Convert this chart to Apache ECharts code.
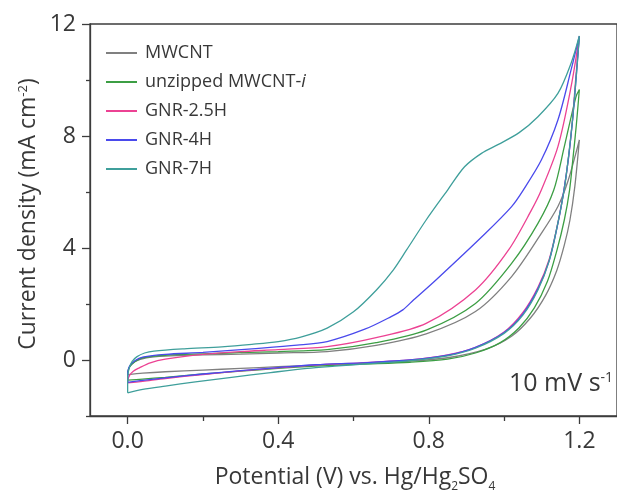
<!DOCTYPE html>
<html>
<head>
<meta charset="utf-8">
<script src="https://cdn.jsdelivr.net/npm/echarts@6/dist/echarts.min.js"></script>
<style>
  html, body { margin: 0; padding: 0; background: #fff; }
  #chart { width: 617px; height: 494px; }
</style>
</head>
<body>
<div id="chart"></div>
<script>
// Cyclic voltammograms at 10 mV/s: forward (0 -> 1.2 V) and reverse (1.2 -> 0 V) sweeps
const seriesNames = ['MWCNT', 'unzipped MWCNT-i', 'GNR-2.5H', 'GNR-4H', 'GNR-7H'];
const seriesColors = ['#808080', '#3c9e44', '#ec4293', '#4a4aec', '#3f9f9b'];

const xMajorTicks = [0, 0.4, 0.8, 1.2];
const xMinorTicks = [0.2, 0.6, 1.0];
const yMajorTicks = [0, 4, 8, 12];
const yMinorTicks = [-2, 2, 6, 10];

// [potential (V), current density (mA cm-2)]
const mwcntForward = [[0,-0.45],[0.005,-0.25],[0.02,-0.05],[0.05,0.08],[0.1,0.14],[0.2,0.18],[0.3,0.21],[0.4,0.25],[0.53,0.3],[0.66,0.52],[0.793,0.93],[0.924,1.73],[1.02,2.98],[1.099,4.52],[1.143,5.48],[1.17,6.4],[1.2,7.86]];
const mwcntReverse = [[1.2,7.86],[1.188,6.2],[1.175,5.0],[1.16,4.1],[1.14,3.2],[1.11,2.3],[1.07,1.5],[1.02,0.85],[0.95,0.38],[0.85,0.08],[0.75,-0.04],[0.62,-0.12],[0.5,-0.18],[0.4,-0.24],[0.3,-0.3],[0.2,-0.36],[0.1,-0.42],[0.04,-0.47],[0,-0.52]];

const unzippedForward = [[0,-0.45],[0.005,-0.25],[0.02,-0.05],[0.04,0.08],[0.1,0.17],[0.2,0.22],[0.3,0.26],[0.4,0.3],[0.53,0.37],[0.66,0.62],[0.793,1.07],[0.924,2.02],[1.02,3.45],[1.09,4.88],[1.132,6.07],[1.16,7.62],[1.191,9.4],[1.2,9.66]];
const unzippedReverse = [[1.2,9.66],[1.192,8.4],[1.183,7.2],[1.174,6.07],[1.16,5.0],[1.14,3.9],[1.115,2.8],[1.08,1.85],[1.04,1.15],[0.99,0.62],[0.924,0.25],[0.85,0.03],[0.75,-0.08],[0.62,-0.15],[0.5,-0.22],[0.4,-0.3],[0.3,-0.4],[0.2,-0.5],[0.1,-0.62],[0.04,-0.68],[0,-0.72]];

const gnr25Forward = [[0,-0.72],[0.005,-0.55],[0.015,-0.4],[0.031,-0.28],[0.06,-0.1],[0.1,0.03],[0.2,0.2],[0.3,0.3],[0.4,0.37],[0.53,0.48],[0.66,0.8],[0.793,1.31],[0.924,2.5],[1.012,3.93],[1.073,5.36],[1.099,6.07],[1.143,7.62],[1.178,9.76],[1.2,11.57]];
const gnr25Reverse = [[1.2,11.57],[1.19,10.0],[1.182,8.6],[1.171,7.2],[1.159,6.07],[1.143,4.9],[1.12,3.6],[1.09,2.6],[1.05,1.7],[1.0,1.0],[0.924,0.45],[0.85,0.18],[0.75,0.0],[0.62,-0.1],[0.5,-0.18],[0.4,-0.28],[0.3,-0.39],[0.2,-0.52],[0.1,-0.66],[0.04,-0.76],[0,-0.82]];

const gnr4Forward = [[0,-0.45],[0.005,-0.22],[0.02,-0.02],[0.04,0.1],[0.1,0.2],[0.2,0.27],[0.33,0.4],[0.45,0.53],[0.53,0.66],[0.63,1.1],[0.7,1.55],[0.731,1.79],[0.76,2.15],[0.819,2.86],[0.95,4.52],[1.02,5.48],[1.051,6.07],[1.099,7.14],[1.143,8.57],[1.178,10.36],[1.2,11.57]];
const gnr4Reverse = [[1.2,11.57],[1.191,10.0],[1.182,8.57],[1.171,7.2],[1.159,6.07],[1.143,4.88],[1.12,3.55],[1.09,2.55],[1.05,1.65],[1.0,0.98],[0.924,0.45],[0.85,0.17],[0.75,0.0],[0.62,-0.1],[0.5,-0.17],[0.4,-0.27],[0.3,-0.38],[0.2,-0.5],[0.1,-0.64],[0.04,-0.73],[0,-0.8]];

const gnr7Forward = [[0,-1.17],[0,-0.6],[0.004,-0.3],[0.012,-0.05],[0.025,0.12],[0.045,0.25],[0.07,0.32],[0.15,0.4],[0.25,0.47],[0.33,0.56],[0.4,0.66],[0.46,0.82],[0.53,1.14],[0.6,1.72],[0.661,2.5],[0.705,3.2],[0.741,3.93],[0.793,5.0],[0.85,6.07],[0.895,6.9],[0.94,7.38],[0.985,7.7],[1.04,8.12],[1.09,8.69],[1.143,9.52],[1.178,10.6],[1.2,11.57]];
const gnr7Reverse = [[1.2,11.57],[1.191,10.0],[1.182,8.6],[1.171,7.25],[1.16,6.1],[1.143,4.9],[1.12,3.55],[1.09,2.5],[1.05,1.6],[1.0,0.95],[0.924,0.42],[0.85,0.15],[0.75,-0.02],[0.65,-0.12],[0.55,-0.22],[0.477,-0.3],[0.38,-0.45],[0.276,-0.62],[0.18,-0.78],[0.1,-0.93],[0.04,-1.05],[0,-1.17]];

const sweeps = [
  [mwcntForward, mwcntReverse],
  [unzippedForward, unzippedReverse],
  [gnr25Forward, gnr25Reverse],
  [gnr4Forward, gnr4Reverse],
  [gnr7Forward, gnr7Reverse]
];

// close each voltammogram: forward sweep, reverse sweep, then back to the start
function closedLoop(fwd, rev) {
  const pts = fwd.concat(rev.slice(1));
  pts.push(fwd[0]);
  return pts;
}

const FONT = '"Open Sans", "Noto Sans", sans-serif';
const TEXT = '#383838';
const AXIS = '#3c3c3c';

const chart = echarts.init(document.getElementById('chart'), null, { renderer: 'canvas' });

const option = {
  animation: false,
  backgroundColor: '#ffffff',
  grid: {
    left: 90, top: 24, right: -6, bottom: 78,
    show: true, borderColor: AXIS, borderWidth: 1.3, backgroundColor: 'transparent'
  },
  xAxis: [{
    type: 'value', min: -0.1, max: 1.3, position: 'bottom',
    axisLine: { show: true, onZero: false, lineStyle: { color: AXIS, width: 1.3 } },
    axisTick: { show: true, inside: false, length: 8, customValues: xMajorTicks, lineStyle: { color: AXIS, width: 1.3 } },
    axisLabel: { customValues: xMajorTicks, formatter: v => v.toFixed(1), fontSize: 23, color: TEXT, fontFamily: FONT, margin: 14 },
    splitLine: { show: false }
  }, {
    type: 'value', min: -0.1, max: 1.3, position: 'bottom',
    axisLine: { show: false, onZero: false },
    axisTick: { show: true, inside: false, length: 5, customValues: xMinorTicks, lineStyle: { color: AXIS, width: 1.3 } },
    axisLabel: { show: false },
    splitLine: { show: false }
  }],
  yAxis: [{
    type: 'value', min: -2, max: 12, position: 'left',
    axisLine: { show: true, onZero: false, lineStyle: { color: AXIS, width: 1.3 } },
    axisTick: { show: true, inside: false, length: 8, customValues: yMajorTicks, lineStyle: { color: AXIS, width: 1.3 } },
    axisLabel: { customValues: yMajorTicks, formatter: v => String(v), fontSize: 23, color: TEXT, fontFamily: FONT, margin: 14 },
    splitLine: { show: false }
  }, {
    type: 'value', min: -2, max: 12, position: 'left',
    axisLine: { show: false, onZero: false },
    axisTick: { show: true, inside: false, length: 4, customValues: yMinorTicks, lineStyle: { color: AXIS, width: 1.3 } },
    axisLabel: { show: false },
    splitLine: { show: false }
  }],
  legend: {
    orient: 'vertical', left: 106, top: 44, padding: 0,
    icon: 'rect', itemWidth: 31, itemHeight: 2, itemGap: 11,
    textStyle: {
      fontSize: 18, color: TEXT, fontFamily: FONT, padding: [0, 0, 0, 3],
      rich: { it: { fontSize: 18, color: TEXT, fontFamily: FONT, fontStyle: 'italic' } }
    },
    formatter: name => name === 'unzipped MWCNT-i' ? 'unzipped MWCNT-{it|i}' : name,
    data: seriesNames
  },
  series: seriesNames.map((name, i) => ({
    name: name,
    type: 'line',
    xAxisIndex: 0, yAxisIndex: 0,
    data: closedLoop(sweeps[i][0], sweeps[i][1]),
    symbol: 'none',
    smooth: 0.3,
    lineStyle: { color: seriesColors[i], width: 1.3 },
    itemStyle: { color: seriesColors[i] },
    z: 2 + i
  })),
  graphic: [
    {
      type: 'text', x: 355, y: 477, z: 10,
      style: {
        text: '{a|Potential (V) vs. Hg/Hg}{s|2}{a|SO}{s|4}',
        align: 'center', verticalAlign: 'middle',
        rich: {
          a: { fontSize: 23, fontFamily: FONT, fill: TEXT, verticalAlign: 'bottom' },
          s: { fontSize: 12, fontFamily: FONT, fill: TEXT, verticalAlign: 'bottom', padding: [0, 0, -4, 0] }
        }
      }
    },
    {
      type: 'text', x: 28, y: 214, rotation: Math.PI / 2, z: 10,
      style: {
        text: '{a|Current density (mA cm}{p|-2}{a|)}',
        align: 'center', verticalAlign: 'middle',
        rich: {
          a: { fontSize: 23, fontFamily: FONT, fill: TEXT },
          p: { fontSize: 13, fontFamily: FONT, fill: TEXT, verticalAlign: 'top' }
        }
      }
    },
    {
      type: 'text', x: 509, y: 384, z: 10,
      style: {
        text: '{a|10 mV s}{p|-1}',
        align: 'left', verticalAlign: 'middle',
        rich: {
          a: { fontSize: 25, fontFamily: FONT, fill: TEXT },
          p: { fontSize: 14, fontFamily: FONT, fill: TEXT, verticalAlign: 'top' }
        }
      }
    }
  ]
};

chart.setOption(option);
</script>
</body>
</html>
